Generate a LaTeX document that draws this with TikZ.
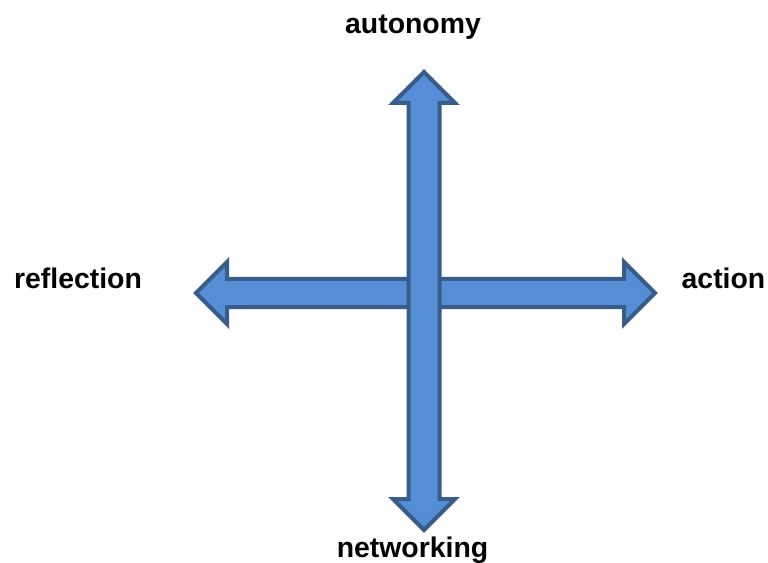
\documentclass[tikz,border=0pt]{standalone}
\usepackage{fontspec}
\setmainfont{Liberation Sans}
\usetikzlibrary{shapes.arrows}
\definecolor{arrowfill}{RGB}{85,142,213}
\definecolor{arrowline}{RGB}{56,93,138}
\begin{document}
\begin{tikzpicture}[x=0.75pt, y=-0.75pt,
            every node/.style = {font=\bfseries\fontsize{21.3pt}{24pt}\selectfont},
            axis/.style = {double arrow, draw=arrowline, fill=arrowfill,
                line width=3pt, double arrow tip angle=90, inner xsep=0pt,
                minimum width=43.5pt}]
            \useasboundingbox (0,0) rectangle (768,563);
            % horizontal axis first, vertical one on top
            \node[axis, minimum height=344.25pt, inner ysep=9pt,
                double arrow head extend=12.75pt] (horiz) at (425.5,293) {};
            \node[axis, rotate=90, minimum height=343.5pt, inner ysep=10.125pt,
                double arrow head extend=11.625pt] (vert) at (424,301) {};
            % labels
            \node[anchor=base] (autonomy) at (413,34) {autonomy};
            \node[anchor=base] (networking) at (412.5,557) {networking};
            \node[anchor=base] (reflection) at (78,288) {reflection};
            \node[anchor=base] (action) at (723.5,288) {action};
        \end{tikzpicture}
\end{document}
